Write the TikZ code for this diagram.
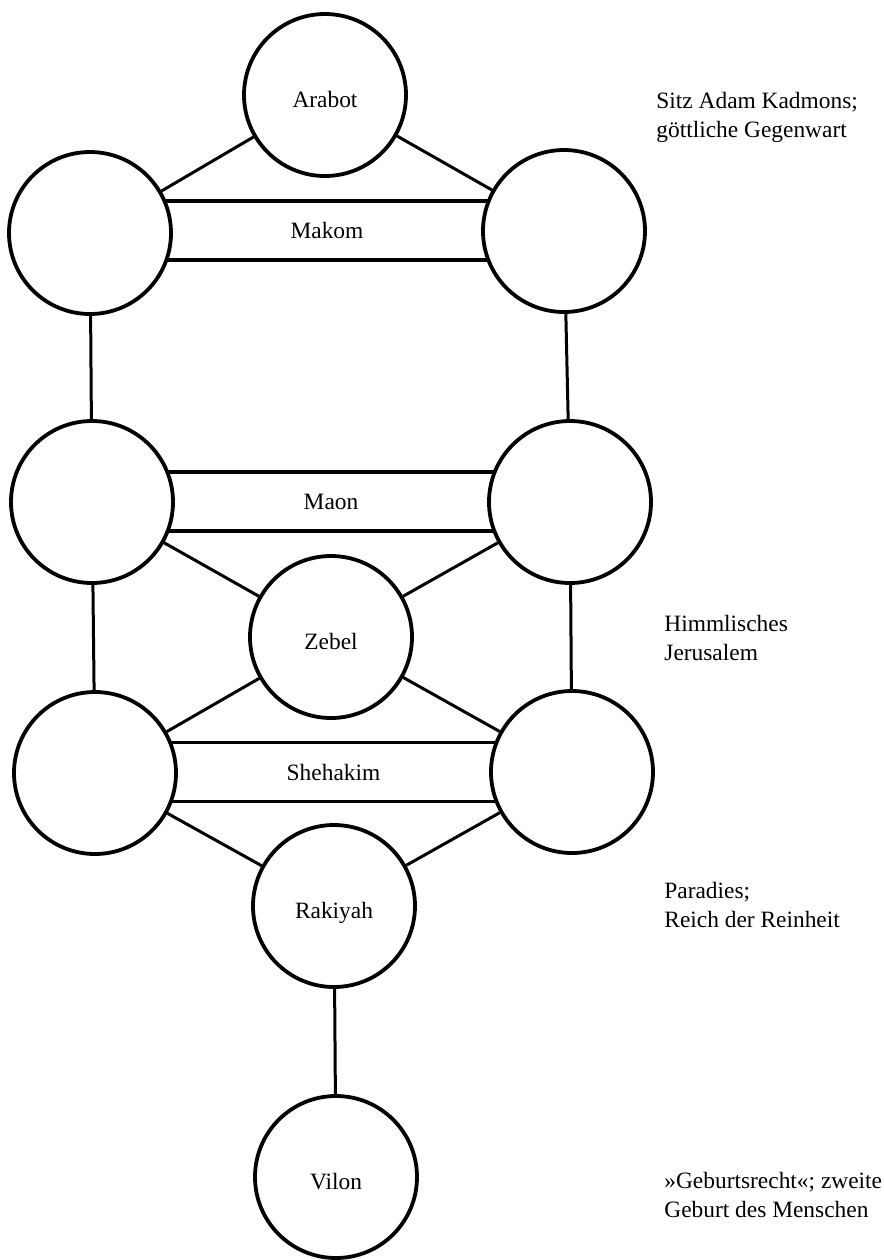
\documentclass[tikz,border=0pt]{standalone}
\usepackage{fontspec}
\setmainfont{Liberation Serif}
\usepackage{tikz}

\begin{document}
\begin{tikzpicture}[x=0.5pt,y=-0.5pt,
  sphere/.style={draw,circle,line width=1.9pt,fill=white,minimum size=81pt,inner sep=0pt,text height=12.5pt,text depth=0pt,font=\fontsize{11.7}{14}\selectfont},
  bar/.style={draw,rectangle,line width=1.6pt,minimum height=29.5pt,inner sep=0pt,font=\fontsize{11.7}{14}\selectfont},
  note/.style={anchor=north west,align=left,inner sep=0pt,font=\fontsize{11.7}{14.2}\selectfont},
  link/.style={line width=1.5pt}]
  \useasboundingbox (0,0) rectangle (884,1260);
  % bars first, the spheres cover their ends
  \node[bar,minimum width=237pt] (makom) at (327,230.5) {Makom};
  \node[bar,minimum width=239pt] (maon) at (331,501.5) {Maon};
  \node[bar,minimum width=238.5pt] (shehakim) at (333.5,772) {Shehakim};
  \node[sphere] (arabot) at (325,95) {Arabot};
  \node[sphere] (makomL) at (90,233) {};
  \node[sphere] (makomR) at (564,231) {};
  \node[sphere] (maonL) at (92,502) {};
  \node[sphere] (maonR) at (570,502) {};
  \node[sphere] (zebel) at (331,637) {Zebel};
  \node[sphere] (shehakimL) at (95,773) {};
  \node[sphere] (shehakimR) at (572,772) {};
  \node[sphere] (rakiyah) at (334,906) {Rakiyah};
  \node[sphere] (vilon) at (336,1177) {Vilon};
  \draw[link] (arabot) -- (makomL);
  \draw[link] (arabot) -- (makomR);
  \draw[link] (makomL) -- (maonL);
  \draw[link] (makomR) -- (maonR);
  \draw[link] (maonL) -- (zebel);
  \draw[link] (maonR) -- (zebel);
  \draw[link] (maonL) -- (shehakimL);
  \draw[link] (maonR) -- (shehakimR);
  \draw[link] (zebel) -- (shehakimL);
  \draw[link] (zebel) -- (shehakimR);
  \draw[link] (shehakimL) -- (rakiyah);
  \draw[link] (shehakimR) -- (rakiyah);
  \draw[link] (rakiyah) -- (vilon);
  % notes on the right
  \node[note] (noteArabot) at (656,92) {Sitz Adam Kadmons;\\göttliche Gegenwart};
  \node[note] (noteZebel) at (664,615) {Himmlisches\\Jerusalem};
  \node[note] (noteRakiyah) at (664,882) {Paradies;\\Reich der Reinheit};
  \node[note] (noteVilon) at (664,1172) {»Geburtsrecht«; zweite\\Geburt des Menschen};
\end{tikzpicture}
\end{document}
